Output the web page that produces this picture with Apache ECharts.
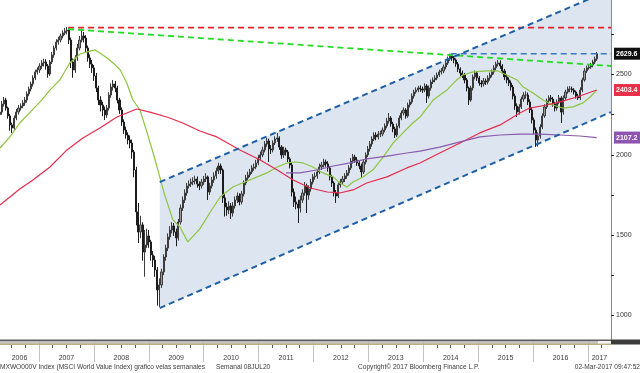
<!DOCTYPE html>
<html><head><meta charset="utf-8">
<script src="https://cdn.jsdelivr.net/npm/echarts@6/dist/echarts.min.js"></script>
<style>html,body{margin:0;padding:0;background:#fff}#c{width:640px;height:373px}</style>
</head><body><div id="c"></div>
<script>
// ---- axis labels / ticks ----
const years = ['2006','2007','2008','2009','2010','2011','2012','2013','2014','2015','2016','2017'];
const yearLabelPos = [2006.645,2007.5,2008.5,2009.5,2010.5,2011.5,2012.5,2013.5,2014.5,2015.5,2016.5,2017.21];
const yearBounds = [2007,2008,2009,2010,2011,2012,2013,2014,2015,2016,2017];
const quarterTicks = [2006.5,2006.75,2007.25,2007.5,2007.75,2008.25,2008.5,2008.75,2009.25,2009.5,2009.75,
  2010.25,2010.5,2010.75,2011.25,2011.5,2011.75,2012.25,2012.5,2012.75,2013.25,2013.5,2013.75,
  2014.25,2014.5,2014.75,2015.25,2015.5,2015.75,2016.25,2016.5,2016.75,2017.25];
const priceTicks = [1000,1250,1500,1750,2000,2250,2500,2750];
const priceLabels = [1000,1500,2000,2500];
const lastValues = [2629.6, 2403.4, 2107.2];

// ---- bi-weekly candles (close / high / low), last one 02-Mar-2017 ----
const lastDate = 2017.167;
const stepYears = 14 / 365.25;
const firstOpen = 2250;
const closes = [
2266,2316,2341,2291,2242,2186,2167,2229,2266,2291,
2304,2323,2341,2379,2410,2441,2478,2516,2528,2553,
2572,2578,2553,2503,2578,2622,2665,2702,2715,2740,
2759,2771,2777,2715,2578,2528,2603,2665,2715,2740,
2727,2665,2603,2565,2541,2491,2416,2341,2310,2279,
2248,2291,2372,2422,2441,2416,2341,2279,2204,2154,
2123,2092,2073,2017,1905,1644,1519,1563,1394,1438,
1494,1457,1376,1344,1282,1158,1189,1270,1363,1419,
1488,1531,1556,1519,1482,1581,1668,1718,1762,1806,
1818,1830,1837,1849,1818,1806,1830,1849,1862,1768,
1806,1843,1868,1899,1930,1905,1731,1675,1656,1681,
1637,1681,1718,1743,1706,1756,1824,1855,1874,1893,
1918,1924,1949,1980,1999,2030,2067,2086,2036,2030,
2073,2098,2105,2048,1999,2030,2017,1974,1936,1768,
1706,1693,1668,1718,1762,1806,1749,1787,1830,1862,
1868,1893,1924,1936,1955,1943,1918,1862,1824,1762,
1743,1812,1830,1849,1868,1887,1918,1961,1986,1967,
1949,1930,1893,1955,1999,2036,2067,2098,2123,2111,
2129,2129,2154,2179,2210,2229,2192,2161,2123,2179,
2229,2260,2279,2242,2310,2329,2366,2391,2403,2416,
2410,2403,2428,2366,2416,2453,2466,2478,2497,2516,
2522,2547,2572,2597,2615,2603,2590,2565,2534,2509,
2497,2466,2416,2341,2416,2485,2509,2478,2447,2441,
2460,2453,2478,2497,2516,2541,2565,2572,2553,2522,
2485,2466,2447,2422,2366,2304,2266,2298,2347,2372,
2372,2329,2279,2217,2154,2092,2117,2173,2242,2298,
2335,2354,2347,2316,2291,2329,2354,2266,2354,2391,
2410,2410,2403,2391,2366,2354,2403,2466,2522,2541,
2547,2559,2578,2597,2629.6];
const highs = [
2290,2335,2360,2355,2300,2255,2200,2245,2285,2310,
2320,2340,2360,2395,2425,2455,2495,2530,2545,2570,
2590,2598,2595,2565,2590,2640,2680,2720,2735,2755,
2775,2790,2796,2790,2730,2600,2620,2690,2740,2775,
2765,2745,2680,2625,2590,2560,2510,2430,2365,2330,
2300,2310,2390,2445,2466,2460,2430,2355,2295,2220,
2175,2140,2120,2095,2030,1925,1700,1620,1580,1531,
1540,1531,1470,1400,1370,1300,1230,1290,1380,1440,
1510,1555,1580,1575,1540,1600,1690,1740,1785,1825,
1840,1852,1860,1870,1865,1835,1850,1868,1885,1870,
1825,1862,1890,1920,1950,1945,1915,1760,1700,1710,
1700,1705,1740,1765,1760,1775,1840,1875,1895,1912,
1935,1945,1968,2000,2020,2050,2085,2105,2100,2060,
2090,2115,2136,2115,2060,2050,2045,2030,1985,1950,
1790,1740,1720,1745,1785,1830,1820,1810,1850,1880,
1890,1912,1945,1955,1975,1970,1960,1930,1875,1835,
1780,1830,1850,1868,1885,1905,1935,1980,2005,2000,
1985,1960,1945,1970,2015,2055,2085,2115,2140,2140,
2148,2150,2170,2195,2230,2260,2240,2205,2175,2195,
2245,2275,2295,2290,2325,2345,2382,2405,2420,2430,
2432,2425,2445,2440,2432,2468,2482,2495,2512,2530,
2540,2562,2588,2612,2630,2628,2615,2600,2578,2545,
2525,2510,2478,2425,2430,2500,2525,2522,2490,2465,
2478,2475,2495,2512,2532,2558,2580,2590,2588,2565,
2535,2500,2482,2462,2435,2380,2320,2315,2362,2390,
2395,2388,2345,2295,2232,2170,2140,2190,2258,2315,
2350,2370,2372,2360,2330,2345,2372,2365,2370,2405,
2425,2428,2425,2415,2400,2380,2420,2480,2540,2555,
2562,2572,2592,2612,2640];
const lows = [
2235,2250,2300,2275,2225,2150,2136,2155,2215,2250,
2275,2290,2305,2325,2365,2395,2425,2465,2500,2510,
2535,2550,2530,2480,2490,2565,2605,2650,2685,2700,
2725,2745,2750,2690,2540,2480,2510,2585,2650,2700,
2700,2640,2580,2540,2510,2460,2390,2310,2270,2240,
2217,2230,2275,2355,2400,2390,2320,2255,2180,2130,
2100,2065,2040,1975,1860,1560,1450,1480,1340,1240,
1420,1420,1340,1300,1240,1060,1052,1170,1250,1340,
1400,1470,1510,1495,1430,1465,1565,1650,1700,1745,
1790,1800,1810,1815,1795,1780,1790,1812,1830,1718,
1750,1790,1825,1850,1880,1880,1700,1615,1620,1630,
1600,1615,1665,1700,1685,1690,1740,1810,1840,1860,
1880,1900,1910,1935,1965,1985,2015,2050,1955,2005,
2015,2060,2080,2030,1975,1980,1995,1955,1915,1740,
1675,1660,1575,1640,1700,1745,1637,1720,1770,1815,
1845,1850,1880,1905,1920,1925,1895,1840,1800,1740,
1700,1730,1795,1815,1830,1850,1870,1905,1945,1950,
1930,1910,1862,1880,1940,1985,2020,2050,2085,2090,
2095,2110,2115,2140,2165,2195,2175,2140,2105,2110,
2165,2215,2245,2225,2230,2295,2315,2350,2380,2390,
2392,2385,2390,2323,2350,2400,2440,2452,2465,2485,
2500,2508,2532,2560,2585,2585,2570,2548,2515,2490,
2478,2445,2395,2310,2330,2400,2470,2460,2430,2420,
2425,2435,2438,2462,2482,2500,2525,2550,2535,2505,
2465,2445,2428,2400,2345,2280,2235,2250,2285,2330,
2350,2310,2260,2195,2130,2048,2050,2100,2160,2230,
2285,2320,2330,2300,2270,2275,2315,2198,2250,2340,
2380,2390,2388,2375,2350,2341,2340,2390,2455,2510,
2530,2535,2545,2565,2585];

// ---- moving averages [year, value] ----
const greenMA = [[2006.29,2042],[2006.47,2111],[2006.65,2198],[2006.84,2266],[2007.02,2329],[2007.20,2403],[2007.38,2466],[2007.56,2572],[2007.75,2628],[2007.93,2646],[2008.02,2653],[2008.11,2634],[2008.24,2603],[2008.35,2572],[2008.48,2528],[2008.60,2447],[2008.71,2341],[2008.84,2279],[2008.97,2136],[2009.08,2011],[2009.20,1862],[2009.29,1749],[2009.44,1594],[2009.57,1550],[2009.71,1457],[2009.93,1538],[2010.11,1637],[2010.30,1737],[2010.53,1799],[2010.84,1843],[2011.15,1887],[2011.34,1924],[2011.52,1949],[2011.66,1955],[2011.81,1949],[2011.99,1924],[2012.17,1887],[2012.36,1862],[2012.48,1824],[2012.61,1799],[2012.72,1830],[2012.90,1862],[2013.08,1905],[2013.27,1986],[2013.45,2073],[2013.63,2136],[2013.81,2198],[2013.94,2235],[2014.18,2341],[2014.43,2403],[2014.61,2466],[2014.72,2497],[2014.91,2516],[2015.16,2522],[2015.36,2522],[2015.52,2497],[2015.71,2466],[2015.82,2422],[2016.00,2385],[2016.18,2341],[2016.36,2310],[2016.54,2291],[2016.73,2298],[2016.91,2323],[2017.04,2360],[2017.16,2403]];
const redMA = [[2006.29,1687],[2006.47,1737],[2006.65,1787],[2006.89,1843],[2007.20,1924],[2007.51,2030],[2007.80,2105],[2008.11,2167],[2008.42,2235],[2008.78,2285],[2009.02,2266],[2009.33,2235],[2009.62,2198],[2009.93,2148],[2010.24,2111],[2010.66,2030],[2011.03,1967],[2011.34,1905],[2011.63,1843],[2011.94,1793],[2012.25,1768],[2012.48,1762],[2012.72,1781],[2012.97,1824],[2013.34,1862],[2013.70,1918],[2013.94,1949],[2014.30,2011],[2014.67,2073],[2015.03,2136],[2015.40,2186],[2015.76,2260],[2015.94,2291],[2016.25,2310],[2016.49,2329],[2016.80,2360],[2017.16,2403.4]];
const purpleMA = [[2011.50,1887],[2011.75,1887],[2012.06,1905],[2012.36,1930],[2012.67,1949],[2012.97,1974],[2013.34,1992],[2013.70,2011],[2013.94,2023],[2014.30,2048],[2014.67,2080],[2015.03,2111],[2015.40,2123],[2015.76,2129],[2016.13,2129],[2016.49,2123],[2016.85,2117],[2017.16,2107.2]];

// ---- trend lines ----
const redFlat = [[2007.53,2792],[2017.42,2792]];
const greenDown = [[2007.53,2783],[2017.42,2553]];
const blueFlat = [[2014.50,2629.6],[2017.42,2629.6]];
const chX = [2009.20, 2017.42];
const chLow = [1045, 2266];
const chHigh = [1830, 3028];

const X_MIN = 2006.29, X_MAX = 2017.42, Y_MIN = 846, Y_MAX = 2964.1;

const N = closes.length;
const candleData = closes.map((c, i) => [
  lastDate - (N - 1 - i) * stepYears,
  i === 0 ? firstOpen : closes[i - 1],
  c, lows[i], highs[i]
]);

const FONT = 'Liberation Sans';
const chart = echarts.init(document.getElementById('c'), null, {renderer: 'canvas'});
const dash = [6, 4];
const lineSeries = (data, color, width, type, z) => ({
  type: 'line', data, symbol: 'none', silent: true, z: z,
  lineStyle: {color, width, type}, clip: true
});
const boxStyle = bg => ({backgroundColor: bg, color: '#fff', fontSize: 7, fontWeight: 'bold', padding: [3, 6, 2, 2], fontFamily: FONT});

chart.setOption({
  animation: false,
  backgroundColor: '#ffffff',
  grid: {left: 0, right: 29, top: 0, bottom: 33, containLabel: false, outerBoundsMode: 'none'},
  xAxis: [{
    type: 'value', min: X_MIN, max: X_MAX, position: 'bottom',
    splitLine: {show: false},
    axisLine: {show: false},
    axisTick: {show: true, customValues: yearBounds, length: 22, lineStyle: {color: '#c2c2c2', width: 1}},
    axisLabel: {show: true, customValues: yearLabelPos, margin: 15, color: '#3a3a3a', fontSize: 7, fontFamily: FONT,
      formatter: v => years[Math.floor(v) - 2006]}
  }, {
    type: 'value', min: X_MIN, max: X_MAX, position: 'bottom', offset: 5,
    splitLine: {show: false}, axisLine: {show: false}, axisLabel: {show: false},
    axisTick: {show: true, customValues: quarterTicks, length: 3, lineStyle: {color: '#555', width: 1}}
  }],
  yAxis: [{
    type: 'value', min: Y_MIN, max: Y_MAX, position: 'right',
    splitLine: {show: false},
    axisLine: {show: true, lineStyle: {color: '#8a8a8a', width: 1}},
    axisTick: {show: true, customValues: priceTicks, length: 3, lineStyle: {color: '#222'}},
    axisLabel: {customValues: priceLabels, margin: 5, color: '#333', fontSize: 7, fontFamily: FONT,
      formatter: v => String(v)}
  }, {
    type: 'value', min: Y_MIN, max: Y_MAX, position: 'right',
    splitLine: {show: false}, axisLine: {show: false}, axisTick: {show: false},
    axisLabel: {
      customValues: lastValues, margin: 3, fontFamily: FONT,
      formatter: v => {
        const k = Math.abs(v - 2629.6) < 0.01 ? 'a' : (Math.abs(v - 2403.4) < 0.01 ? 'b' : 'c');
        return '{' + k + '|' + v.toFixed(1) + '}';
      },
      rich: {a: boxStyle('#111'), b: boxStyle('#e8304a'), c: boxStyle('#8e55b0')}
    }
  }],
  series: [
    {
      type: 'custom', z: 1, silent: true, clip: true,
      data: [[0]],
      renderItem: (params, api) => {
        const p1 = api.coord([chX[0], chLow[0]]);
        const p2 = api.coord([chX[1], chLow[1]]);
        const p3 = api.coord([chX[1], chHigh[1]]);
        const p4 = api.coord([chX[0], chHigh[0]]);
        return {type: 'polygon', shape: {points: [p1, p2, p3, p4]}, style: {fill: '#dde6f0'}};
      }
    },
    {
      type: 'candlestick', z: 3, silent: true,
      data: candleData,
      encode: {x: 0, y: [1, 2, 3, 4]},
      barWidth: 1.6,
      itemStyle: {color: '#9a9a9a', color0: '#1c1c1c', borderColor: '#3c3c3c', borderColor0: '#1c1c1c', borderWidth: 1}
    },
    lineSeries(greenMA, '#8dc43f', 1.2, 'solid', 4),
    lineSeries(redMA, '#e52c4c', 1.2, 'solid', 4),
    lineSeries(purpleMA, '#8a5aae', 1.2, 'solid', 4),
    lineSeries(redFlat, '#e3222a', 1.8, dash, 5),
    lineSeries(greenDown, '#22dd22', 1.8, dash, 5),
    lineSeries(blueFlat, '#3b78c4', 1.5, dash, 5),
    lineSeries([[chX[0], chHigh[0]], [chX[1], chHigh[1]]], '#1f5fa5', 2, dash, 5),
    lineSeries([[chX[0], chLow[0]], [chX[1], chLow[1]]], '#1f5fa5', 2, dash, 5)
  ],
  graphic: [
    {type: 'rect', z: 100, shape: {x: 0, y: 339.5, width: 611, height: 2}, style: {fill: '#5c5c5c'}},
    {type: 'rect', z: 100, shape: {x: 0, y: 341.5, width: 611, height: 2}, style: {fill: '#c6c6c6'}},
    {type: 'rect', z: 100, shape: {x: 0, y: 343.5, width: 611, height: 1.2}, style: {fill: '#a4975c'}},
    {type: 'rect', z: 100, shape: {x: 598, y: 341, width: 13, height: 2.5}, style: {fill: '#f4f4f4'}},
    {type: 'rect', z: 100, shape: {x: 611, y: 339.5, width: 29, height: 5}, style: {fill: '#3c3c3c'}},
    {type: 'text', z: 100, left: 0, top: 364, style: {text: 'MXWO000V Index (MSCI World Value Index) grafico velas semanales', fontSize: 6.6, fontFamily: FONT, fill: '#3a3a3a'}},
    {type: 'text', z: 100, left: 216, top: 364, style: {text: 'Semanal 08JUL20', fontSize: 6.6, fontFamily: FONT, fill: '#3a3a3a'}},
    {type: 'text', z: 100, left: 358, top: 364, style: {text: 'Copyright\u00A9 2017 Bloomberg Finance L.P.', fontSize: 6.6, fontFamily: FONT, fill: '#3a3a3a'}},
    {type: 'text', z: 100, right: 0, top: 364, style: {text: '02-Mar-2017 09:47:52', fontSize: 6.6, fontFamily: FONT, fill: '#3a3a3a'}}
  ]
});
</script>
</body></html>
